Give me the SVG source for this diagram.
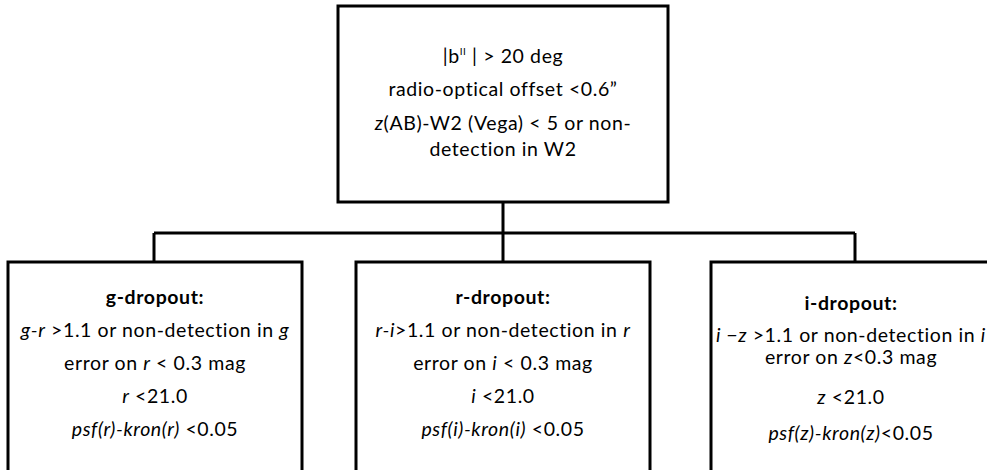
<svg xmlns="http://www.w3.org/2000/svg" width="987" height="470" viewBox="0 0 987 470">
<style>
.box{fill:#fff;stroke:#000;stroke-width:3}
.con{fill:none;stroke:#000;stroke-width:3}
text{font-family:Lato,"Open Sans","Liberation Sans",sans-serif;font-size:19.5px;letter-spacing:0.6px;fill:#000;text-anchor:middle}
.b{font-weight:bold}
.it{font-style:italic}
</style>
<rect width="987" height="470" fill="#fff"/>
<g id="connectors">
<path class="con" d="M503 202 V233 M154 233 H855 M154 233 V262 M503 233 V262 M855 233 V262"/>
</g>
<g id="top">
<rect class="box" x="338" y="6" width="330" height="196"/>
<text x="503" y="63">|b<tspan font-size="10" dy="-8">II</tspan><tspan dy="8"> | &gt; 20 deg</tspan></text>
<text x="503" y="96">radio-optical offset &lt;0.6”</text>
<text x="503" y="130"><tspan class="it">z</tspan>(AB)-W2 (Vega) &lt; 5 or non-</text>
<text x="503" y="156">detection in W2</text>
</g>
<g id="g-dropout">
<rect class="box" x="8" y="262" width="294" height="220"/>
<text class="b" x="155" y="304">g-dropout:</text>
<text x="155" y="337"><tspan class="it">g-r</tspan> &gt;1.1 or non-detection in <tspan class="it">g</tspan></text>
<text x="155" y="370">error on <tspan class="it">r</tspan> &lt; 0.3 mag</text>
<text x="155" y="403"><tspan class="it">r</tspan> &lt;21.0</text>
<text x="155" y="436"><tspan class="it">psf(r)-kron(r)</tspan> &lt;0.05</text>
</g>
<g id="r-dropout">
<rect class="box" x="356" y="262" width="294" height="220"/>
<text class="b" x="503" y="304">r-dropout:</text>
<text x="503" y="337"><tspan class="it">r-i</tspan>&gt;1.1 or non-detection in <tspan class="it">r</tspan></text>
<text x="503" y="370">error on <tspan class="it">i</tspan> &lt; 0.3 mag</text>
<text x="503" y="403"><tspan class="it">i</tspan> &lt;21.0</text>
<text x="503" y="436"><tspan class="it">psf(i)-kron(i)</tspan> &lt;0.05</text>
</g>
<g id="i-dropout">
<rect class="box" x="711" y="262" width="288" height="220"/>
<text class="b" x="851" y="310">i-dropout:</text>
<text x="851" y="342"><tspan class="it">i −z</tspan> &gt;1.1 or non-detection in <tspan class="it">i</tspan></text>
<text x="851" y="364">error on <tspan class="it">z</tspan>&lt;0.3 mag</text>
<text x="851" y="404"><tspan class="it">z</tspan> &lt;21.0</text>
<text x="851" y="440"><tspan class="it">psf(z)-kron(z)</tspan>&lt;0.05</text>
</g>
</svg>
